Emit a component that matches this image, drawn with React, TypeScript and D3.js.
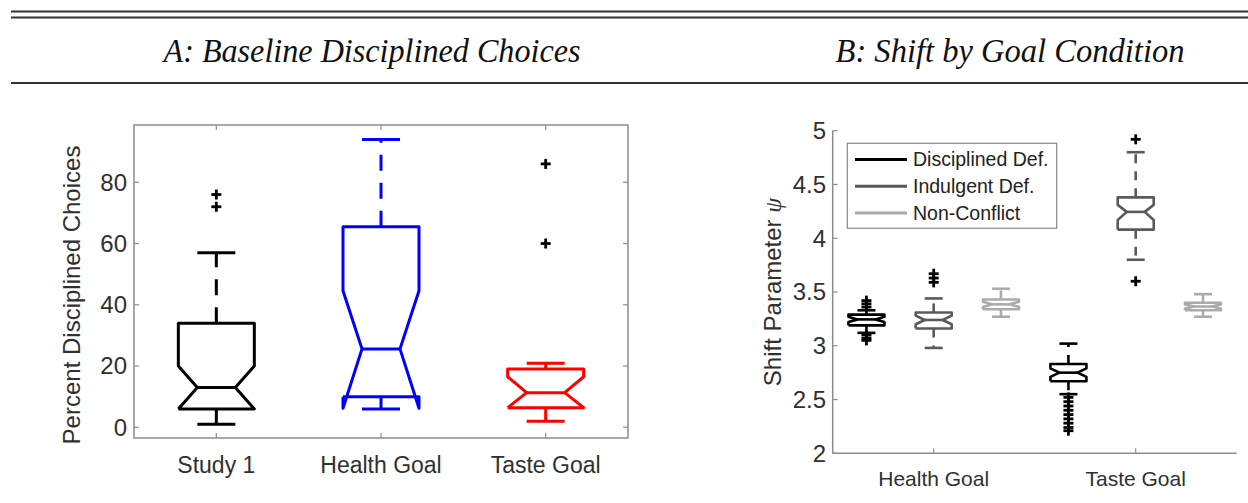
import React from 'react';
import * as d3 from 'd3';

// Panel A: baseline disciplined choices
const categoriesA = ["Study 1", "Health Goal", "Taste Goal"];
const lowerWhiskerA = [1, 6, 2];
const q1A = [6, 10, 6.4];
const notchLowA = [6, 6.2, 6.4];
const medianA = [13, 25.6, 11.3];
const notchHighA = [20, 44.6, 16.5];
const q3A = [34, 65.5, 19];
const upperWhiskerA = [57, 94, 20.9];
const outliersA = [[72, 76], [], [60, 86]];
const ticksA = [0, 20, 40, 60, 80];

// Panel B: shift by goal condition, each row is [Health Goal, Taste Goal]
const goalsB = ["Health Goal", "Taste Goal"];
const conditionsB = ["Disciplined Def.", "Indulgent Def.", "Non-Conflict"];
const lowerWhiskerB = [[3.12, 2.55], [2.98, 3.8], [3.27, 3.27]];
const q1B = [[3.19, 2.67], [3.16, 4.08], [3.34, 3.33]];
const notchLowB = [[3.22, 2.71], [3.2, 4.17], [3.36, 3.345]];
const medianB = [[3.245, 2.75], [3.24, 4.245], [3.385, 3.365]];
const notchHighB = [[3.27, 2.79], [3.28, 4.31], [3.41, 3.385]];
const q3B = [[3.29, 2.83], [3.31, 4.38], [3.43, 3.4]];
const upperWhiskerB = [[3.33, 3.02], [3.44, 4.8], [3.53, 3.48]];
const outliersB = [
  [[3.36, 3.39, 3.42, 3.1, 3.07, 3.05], [2.52, 2.48, 2.44, 2.4, 2.36, 2.32, 2.28, 2.24, 2.21]],
  [[3.59, 3.63, 3.67], [3.6, 4.92]],
  [[], []],
];
const ticksB = [2, 2.5, 3, 3.5, 4, 4.5, 5];

const colorsA = ["#000000", "#0000ff", "#ff0000"];
const colorsB = ["#000000", "#5a5a5a", "#ababab"];
const axisColor = "#8c8c8c";
const textColor = "#303030";
const sans = "'Liberation Sans', Arial, sans-serif";

function boxPath(cx, halfW, y, s) {
  // notched outline, MATLAB style
  const xl = cx - halfW, xr = cx + halfW;
  const nl = cx - halfW / 2, nr = cx + halfW / 2;
  const pts = [
    [xl, s.q1], [xl, s.nlo], [nl, s.med], [xl, s.nhi], [xl, s.q3],
    [xr, s.q3], [xr, s.nhi], [nr, s.med], [xr, s.nlo], [xr, s.q1], [xl, s.q1],
  ];
  return d3.line().x(d => d[0]).y(d => y(d[1]))(pts);
}

function Box({ cx, halfW, y, s, color, sw, dash }) {
  const capW = halfW / 2;
  return (
    <g stroke={color} fill="none" strokeWidth={sw} strokeLinejoin="round">
      <line x1={cx} x2={cx} y1={y(s.q3)} y2={y(s.uw)} strokeDasharray={dash} />
      <line x1={cx} x2={cx} y1={y(s.q1)} y2={y(s.lw)} strokeDasharray={dash} />
      <line x1={cx - capW} x2={cx + capW} y1={y(s.uw)} y2={y(s.uw)} />
      <line x1={cx - capW} x2={cx + capW} y1={y(s.lw)} y2={y(s.lw)} />
      <path d={boxPath(cx, halfW, y, s)} />
      <line x1={cx - halfW / 2} x2={cx + halfW / 2} y1={y(s.med)} y2={y(s.med)} />
      {s.out.map((o, i) => (
        <g key={i} stroke="#000" strokeWidth={2.8}>
          <line x1={cx - 5} x2={cx + 5} y1={y(o)} y2={y(o)} />
          <line x1={cx} x2={cx} y1={y(o) - 5} y2={y(o) + 5} />
        </g>
      ))}
    </g>
  );
}

export default function App() {
  const xA = d3.scaleLinear().domain([0.5, 3.5]).range([134, 628]);
  const yA = d3.scaleLinear().domain([-3.5, 98.7]).range([438, 125]);
  const xB = d3.scaleLinear().domain([0.5, 2.5]).range([832.7, 1236.7]);
  const yB = d3.scaleLinear().domain([2, 5]).range([453.3, 130.7]);
  const offsetB = 0.333;

  return (
    <svg width={1248} height={503} style={{ position: 'absolute', left: 0, top: 0, background: '#fff' }}>
      {/* header rules and titles */}
      <line x1={11} x2={1248} y1={11.5} y2={11.5} stroke="#333" strokeWidth={2} />
      <line x1={11} x2={1248} y1={17.5} y2={17.5} stroke="#333" strokeWidth={2} />
      <line x1={11} x2={1248} y1={83} y2={83} stroke="#333" strokeWidth={2} />
      <text x={372} y={62} textAnchor="middle" fontFamily="'Liberation Serif', serif" fontStyle="italic"
        fontSize={33} textLength={417} lengthAdjust="spacingAndGlyphs" fill="#111">A: Baseline Disciplined Choices</text>
      <text x={1010} y={62} textAnchor="middle" fontFamily="'Liberation Serif', serif" fontStyle="italic"
        fontSize={33} textLength={349} lengthAdjust="spacingAndGlyphs" fill="#111">B: Shift by Goal Condition</text>

      {/* Panel A */}
      <g>
        <rect x={134} y={125} width={494} height={313} fill="none" stroke={axisColor} strokeWidth={1.5} />
        {ticksA.map(t => (
          <g key={t}>
            <line x1={134} x2={139} y1={yA(t)} y2={yA(t)} stroke={axisColor} strokeWidth={1.2} />
            <line x1={628} x2={623} y1={yA(t)} y2={yA(t)} stroke={axisColor} strokeWidth={1.2} />
            <text x={127} y={yA(t)} dy="0.35em" textAnchor="end" fontFamily={sans} fontSize={24} fill={textColor}>{t}</text>
          </g>
        ))}
        {categoriesA.map((c, i) => (
          <g key={c}>
            <line x1={xA(i + 1)} x2={xA(i + 1)} y1={438} y2={433} stroke={axisColor} strokeWidth={1.2} />
            <line x1={xA(i + 1)} x2={xA(i + 1)} y1={125} y2={130} stroke={axisColor} strokeWidth={1.2} />
            <text x={xA(i + 1)} y={473} textAnchor="middle" fontFamily={sans} fontSize={23} fill={textColor}>{c}</text>
          </g>
        ))}
        <text transform="translate(80,295) rotate(-90)" textAnchor="middle" fontFamily={sans} fontSize={24} fill={textColor}>
          Percent Disciplined Choices
        </text>
        {categoriesA.map((c, i) => (
          <Box key={c} cx={xA(i + 1)} halfW={38} y={yA} color={colorsA[i]} sw={3} dash="16 12"
            s={{ lw: lowerWhiskerA[i], q1: q1A[i], nlo: notchLowA[i], med: medianA[i], nhi: notchHighA[i], q3: q3A[i], uw: upperWhiskerA[i], out: outliersA[i] }} />
        ))}
      </g>

      {/* Panel B */}
      <g>
        <line x1={832.7} x2={832.7} y1={130.7} y2={453.3} stroke={axisColor} strokeWidth={1.5} />
        <line x1={832.7} x2={1236.7} y1={453.3} y2={453.3} stroke={axisColor} strokeWidth={1.5} />
        {ticksB.map(t => (
          <g key={t}>
            <line x1={832.7} x2={837.7} y1={yB(t)} y2={yB(t)} stroke={axisColor} strokeWidth={1.2} />
            <text x={826} y={yB(t)} dy="0.35em" textAnchor="end" fontFamily={sans} fontSize={24} fill={textColor}>{t}</text>
          </g>
        ))}
        {goalsB.map((g, j) => (
          <g key={g}>
            <line x1={xB(j + 1)} x2={xB(j + 1)} y1={453.3} y2={448.3} stroke={axisColor} strokeWidth={1.2} />
            <text x={xB(j + 1)} y={486} textAnchor="middle" fontFamily={sans} fontSize={21} fill={textColor}>{g}</text>
          </g>
        ))}
        <text transform="translate(781,292) rotate(-90)" textAnchor="middle" fontFamily={sans} fontSize={24} fill={textColor}>
          Shift Parameter <tspan fontFamily="'Liberation Serif', serif" fontStyle="italic">ψ</tspan>
        </text>
        {conditionsB.map((c, i) =>
          goalsB.map((g, j) => (
            <Box key={c + g} cx={xB(j + 1 + (i - 1) * offsetB)} halfW={18} y={yB} color={colorsB[i]} sw={2.6} dash="9 8"
              s={{ lw: lowerWhiskerB[i][j], q1: q1B[i][j], nlo: notchLowB[i][j], med: medianB[i][j], nhi: notchHighB[i][j], q3: q3B[i][j], uw: upperWhiskerB[i][j], out: outliersB[i][j] }} />
          ))
        )}
        {/* legend */}
        <rect x={847.3} y={143.3} width={209.4} height={85} fill="#fff" stroke="#888" strokeWidth={1.2} />
        {conditionsB.map((c, i) => (
          <g key={c}>
            <line x1={855} x2={907} y1={159.5 + i * 26.7} y2={159.5 + i * 26.7} stroke={colorsB[i]} strokeWidth={3} />
            <text x={913} y={159.5 + i * 26.7} dy="0.35em" fontFamily={sans} fontSize={19.5} fill="#222">{c}</text>
          </g>
        ))}
      </g>
    </svg>
  );
}
